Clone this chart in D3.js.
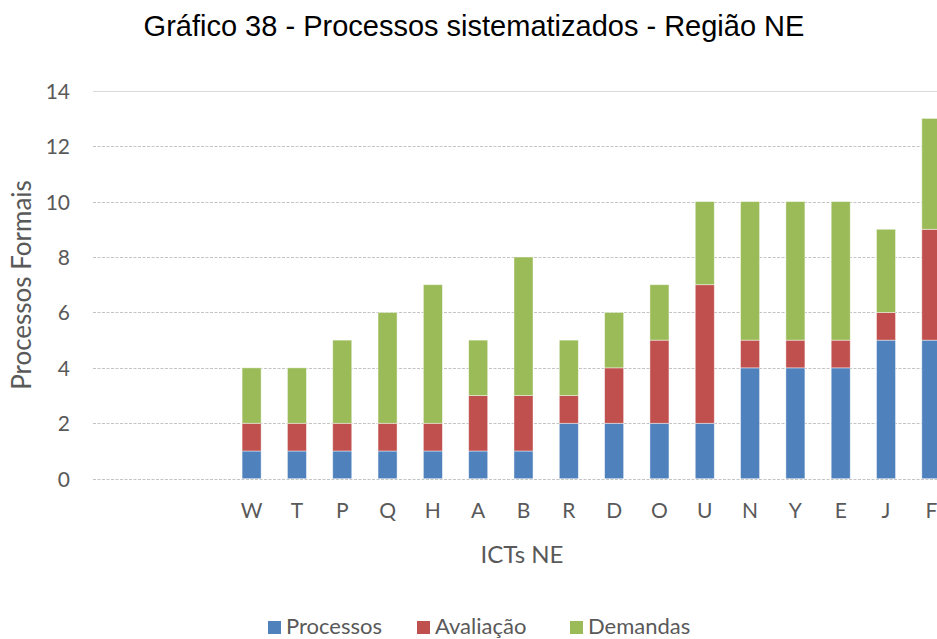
<!DOCTYPE html>
<html>
<head>
<meta charset="utf-8">
<script src="https://cdn.jsdelivr.net/npm/d3@7"></script>
<style>
  html, body { margin: 0; padding: 0; background: #fff; }
  svg { display: block; }
</style>
</head>
<body>
<svg id="chart" width="937" height="639"></svg>
<script>
// Institutions (the first three slots are left empty on the axis)
const categories = ["", "", "", "W", "T", "P", "Q", "H", "A", "B", "R", "D", "O", "U", "N", "Y", "E", "J", "F"];
const processos  = [null, null, null, 1, 1, 1, 1, 1, 1, 1, 2, 2, 2, 2, 4, 4, 4, 5, 5];
const avaliacao  = [null, null, null, 1, 1, 1, 1, 1, 2, 2, 1, 2, 3, 5, 1, 1, 1, 1, 4];
const demandas   = [null, null, null, 2, 2, 3, 4, 5, 2, 5, 2, 2, 2, 3, 5, 5, 5, 3, 4];
const seriesNames = ["Processos", "Avaliação", "Demandas"];
const yTicks = [0, 2, 4, 6, 8, 10, 12, 14];

const colors = ["#4F81BD", "#C0504D", "#9BBB59"];
const labelFont = "Lato, 'Open Sans', sans-serif";
const textGray = "#595959";

const svg = d3.select("#chart");
const margin = { left: 93, top: 90, right: -17, bottom: 160 };
const W = 937, H = 639;
const plotRight = W - margin.right;

const x = d3.scaleBand()
  .domain(d3.range(categories.length))
  .range([margin.left, plotRight])
  .paddingInner(0.58)
  .paddingOuter(0.29);

const y = d3.scaleLinear().domain([0, 14]).range([478.7, 90.7]);

// Title
svg.append("text")
  .attr("x", 474).attr("y", 36)
  .attr("text-anchor", "middle")
  .attr("font-family", "'Liberation Sans', Arial, sans-serif")
  .attr("font-size", 29)
  .attr("fill", "#000")
  .text("Gráfico 38 - Processos sistematizados - Região NE");

// Gridlines
const grid = svg.append("g");
grid.selectAll("line")
  .data(yTicks)
  .join("line")
  .attr("x1", margin.left).attr("x2", W)
  .attr("y1", d => Math.round(y(d)) + 0.5).attr("y2", d => Math.round(y(d)) + 0.5)
  .attr("stroke", d => d === 14 ? "#d9d9d9" : "#c4c4c4")
  .attr("stroke-width", 1.2)
  .attr("stroke-dasharray", d => d === 14 ? null : "3,1.5");

// Y axis labels
const yAxis = d3.axisLeft(y).tickValues(yTicks).tickSize(0).tickPadding(0);
const yG = svg.append("g").attr("transform", "translate(70,0)").call(yAxis);
yG.select(".domain").remove();
yG.selectAll("text")
  .attr("font-family", labelFont)
  .attr("font-size", 21)
  .attr("fill", textGray)
  .attr("dy", "0.36em");

// Stacked bars
const rows = categories.map((c, i) => ({ i, Processos: processos[i], "Avaliação": avaliacao[i], Demandas: demandas[i] }))
  .filter(r => r.Processos !== null);
const stacked = d3.stack().keys(seriesNames)(rows);

svg.append("g").selectAll("g")
  .data(stacked)
  .join("g")
  .attr("fill", (d, k) => colors[k])
  .selectAll("rect")
  .data(d => d)
  .join("rect")
  .attr("x", d => x(d.data.i))
  .attr("width", x.bandwidth())
  .attr("y", d => y(d[1]))
  .attr("height", d => y(d[0]) - y(d[1]))
  .attr("stroke", "rgba(255,255,255,0.55)")
  .attr("stroke-width", 0.8);

// X axis labels
const xAxis = d3.axisBottom(x).tickFormat(i => categories[i]).tickSize(0).tickPadding(0);
const xG = svg.append("g").attr("transform", "translate(0,518)").call(xAxis);
xG.select(".domain").remove();
xG.selectAll("text")
  .attr("font-family", labelFont)
  .attr("font-size", 21)
  .attr("fill", textGray)
  .attr("dy", 0);

// Axis titles
svg.append("text")
  .attr("x", 522).attr("y", 563)
  .attr("text-anchor", "middle")
  .attr("font-family", labelFont)
  .attr("font-size", 24)
  .attr("fill", textGray)
  .text("ICTs NE");

svg.append("text")
  .attr("transform", "translate(31,285) rotate(-90)")
  .attr("text-anchor", "middle")
  .attr("font-family", labelFont)
  .attr("font-size", 26)
  .attr("fill", textGray)
  .text("Processos Formais");

// Legend
const legendX = [268, 417, 570];
const legend = svg.append("g").selectAll("g")
  .data(seriesNames)
  .join("g")
  .attr("transform", (d, k) => `translate(${legendX[k]},621)`);
legend.append("rect")
  .attr("width", 13).attr("height", 13)
  .attr("fill", (d, k) => colors[k]);
legend.append("text")
  .attr("x", 18).attr("y", 12.5)
  .attr("font-family", labelFont)
  .attr("font-size", 22)
  .attr("fill", textGray)
  .text(d => d);
</script>
</body>
</html>
